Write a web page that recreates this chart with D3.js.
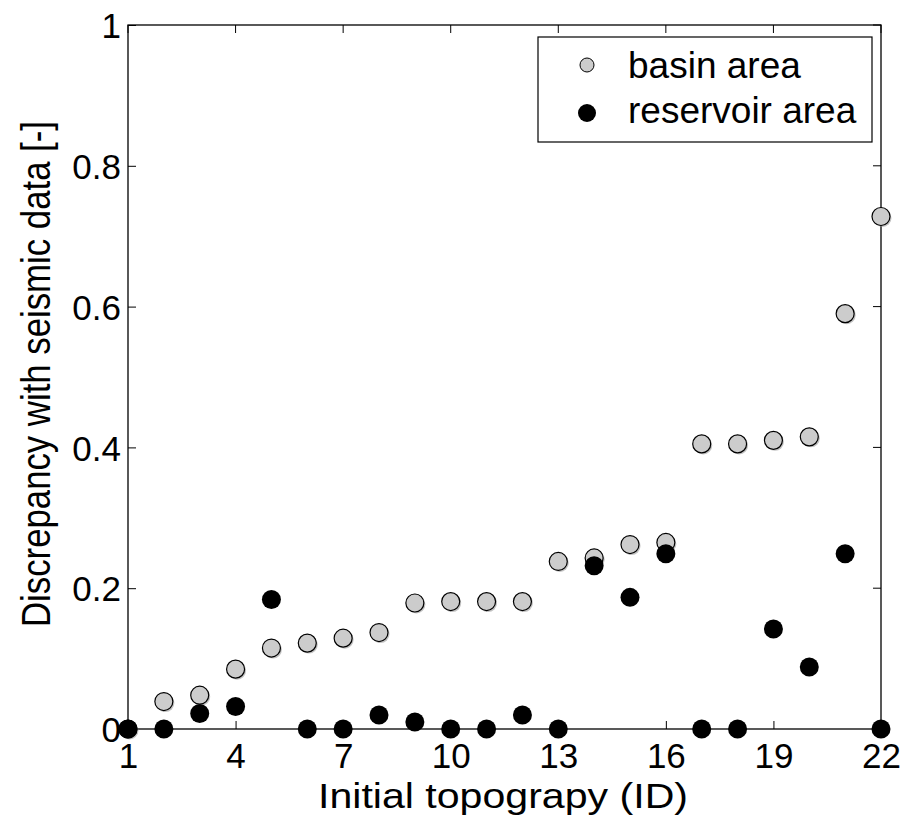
<!DOCTYPE html>
<html>
<head>
<meta charset="utf-8">
<script src="https://cdn.jsdelivr.net/npm/d3@7"></script>
<style>
  body { margin:0; background:#fff; }
  svg text { font-family: "Liberation Sans", Arial, sans-serif; fill:#000; }
</style>
</head>
<body>
<svg id="chart" width="910" height="829"></svg>
<script>
const ids = d3.range(1, 23);
const basin = [0, 0.039, 0.048, 0.085, 0.115, 0.122, 0.129, 0.137, 0.179, 0.181, 0.181,
  0.181, 0.238, 0.243, 0.262, 0.265, 0.405, 0.405, 0.41, 0.415, 0.59, 0.728];
const reservoir = [0, 0, 0.022, 0.032, 0.184, 0, 0, 0.02, 0.01, 0, 0,
  0.02, 0, 0.232, 0.187, 0.249, 0, 0, 0.142, 0.088, 0.249, 0];
const xTicks = [1, 4, 7, 10, 13, 16, 19, 22];
const yTicks = [0, 0.2, 0.4, 0.6, 0.8, 1];

const svg = d3.select("#chart");
const m = { left:128, right:881, top:25, bottom:729 };
const x = d3.scaleLinear().domain([1, 22]).range([m.left, m.right]);
const y = d3.scaleLinear().domain([0, 1]).range([m.bottom, m.top]);

// frame
svg.append("rect").attr("x", m.left).attr("y", m.top)
  .attr("width", m.right - m.left).attr("height", m.bottom - m.top)
  .attr("fill", "none").attr("stroke", "#000").attr("stroke-width", 1.3);

// axes with inward ticks
const fmt = d => d === 0 ? "0" : d === 1 ? "1" : d3.format(".1f")(d);
const xa = svg.append("g").attr("transform", `translate(0,${m.bottom})`)
  .call(d3.axisBottom(x).tickValues(xTicks).tickSizeInner(-8).tickSizeOuter(0));
const ya = svg.append("g").attr("transform", `translate(${m.left},0)`)
  .call(d3.axisLeft(y).tickValues(yTicks).tickFormat(fmt).tickSizeInner(-8).tickSizeOuter(0).tickPadding(7));
[xa, ya].forEach(a => {
  a.select(".domain").remove();
  a.selectAll("line").attr("stroke", "#000");
  a.selectAll("text").style("font-size", "35px").attr("fill", "#000");
});
xa.selectAll("text").attr("y", 39).attr("dy", null);
ya.selectAll("text").attr("dy", "0.36em");

// top & right ticks
svg.append("g").selectAll("line").data(xTicks).join("line")
  .attr("x1", d => x(d)).attr("x2", d => x(d)).attr("y1", m.top).attr("y2", m.top + 8).attr("stroke", "#000");
svg.append("g").selectAll("line").data(yTicks).join("line")
  .attr("x1", m.right).attr("x2", m.right - 8).attr("y1", d => y(d)).attr("y2", d => y(d)).attr("stroke", "#000");

// axis titles
svg.append("text").attr("x", 503).attr("y", 808)
  .attr("text-anchor", "middle").style("font-size", "35px")
  .attr("textLength", 370).attr("lengthAdjust", "spacingAndGlyphs")
  .text("Initial topograpy (ID)");
svg.append("text").attr("transform", `translate(50,374) rotate(-90)`)
  .attr("text-anchor", "middle").style("font-size", "40px")
  .attr("textLength", 506).attr("lengthAdjust", "spacingAndGlyphs")
  .text("Discrepancy with seismic data [-]");

// basin points (with slight shadow)
const gB = svg.append("g");
gB.selectAll("circle.sh").data(ids).join("circle").attr("class", "sh")
  .attr("cx", d => x(d) + 1.5).attr("cy", (d, i) => y(basin[i]) + 1.5).attr("r", 9)
  .attr("fill", "#999").attr("opacity", 0.6);
gB.selectAll("circle.pt").data(ids).join("circle").attr("class", "pt")
  .attr("cx", d => x(d)).attr("cy", (d, i) => y(basin[i])).attr("r", 9)
  .attr("fill", "#cccccc").attr("stroke", "#000").attr("stroke-width", 1.2);

// reservoir points
svg.append("g").selectAll("circle").data(ids).join("circle")
  .attr("cx", d => x(d)).attr("cy", (d, i) => y(reservoir[i])).attr("r", 9.5)
  .attr("fill", "#000");

// legend
const lg = svg.append("g");
lg.append("rect").attr("x", 538).attr("y", 37).attr("width", 334).attr("height", 105)
  .attr("fill", "#fff").attr("stroke", "#000").attr("stroke-width", 1.2);
lg.append("circle").attr("cx", 587).attr("cy", 65).attr("r", 7)
  .attr("fill", "#cccccc").attr("stroke", "#000").attr("stroke-width", 1);
lg.append("circle").attr("cx", 587).attr("cy", 113).attr("r", 9).attr("fill", "#000");
lg.append("text").attr("x", 628).attr("y", 78).style("font-size", "37px").text("basin area");
lg.append("text").attr("x", 628).attr("y", 123).style("font-size", "37px").text("reservoir area");
</script>
</body>
</html>
